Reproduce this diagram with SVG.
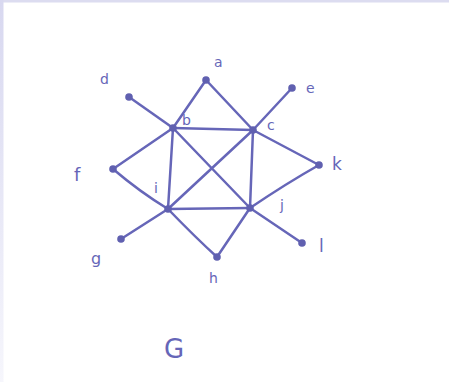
<svg xmlns="http://www.w3.org/2000/svg" width="449" height="382" viewBox="0 0 449 382">
<defs>
<linearGradient id="lb" x1="0" y1="0" x2="0" y2="1">
<stop offset="0" stop-color="#d8d8f0"/>
<stop offset="1" stop-color="#f6f6fc"/>
</linearGradient>
<style>
.e{stroke:#6666b8;stroke-width:2.5;fill:none;stroke-linecap:round}
.n{fill:#6060b0}
.t{font-family:"DejaVu Sans",sans-serif;font-size:14px;fill:#6666b8}
</style>
</defs>
<rect width="449" height="382" fill="#ffffff"/>
<rect x="0" y="0" width="449" height="2.5" fill="#dcdcf0"/>
<rect x="0" y="0" width="3.5" height="382" fill="url(#lb)"/>
<g id="edges">
<line class="e" x1="206" y1="80" x2="173" y2="128"/>
<line class="e" x1="206" y1="80" x2="253" y2="130"/>
<line class="e" x1="129" y1="97" x2="173" y2="128"/>
<line class="e" x1="173" y1="128" x2="253" y2="130"/>
<line class="e" x1="173" y1="128" x2="113" y2="169"/>
<line class="e" x1="173" y1="128" x2="168" y2="209"/>
<line class="e" x1="173" y1="128" x2="250" y2="208"/>
<line class="e" x1="253" y1="130" x2="292" y2="88"/>
<line class="e" x1="253" y1="130" x2="319" y2="165"/>
<line class="e" x1="253" y1="130" x2="250" y2="208"/>
<line class="e" x1="253" y1="130" x2="168" y2="209"/>
<path class="e" d="M113 169 Q140 192 168 209"/>
<line class="e" x1="168" y1="209" x2="250" y2="208"/>
<line class="e" x1="168" y1="209" x2="121" y2="239"/>
<path class="e" d="M168 209 Q195 237 217 257"/>
<line class="e" x1="250" y1="208" x2="217" y2="257"/>
<path class="e" d="M250 208 Q287 183 319 165"/>
<line class="e" x1="250" y1="208" x2="302" y2="243"/>
</g>
<g id="node-a"><circle class="n" cx="206" cy="80" r="3.8"/><text class="t" x="214" y="67">a</text></g>
<g id="node-b"><circle class="n" cx="173" cy="128" r="3.8"/><text class="t" x="182" y="125">b</text></g>
<g id="node-c"><circle class="n" cx="253" cy="130" r="3.8"/><text class="t" x="267" y="130">c</text></g>
<g id="node-d"><circle class="n" cx="129" cy="97" r="3.8"/><text class="t" x="100" y="84">d</text></g>
<g id="node-e"><circle class="n" cx="292" cy="88" r="3.8"/><text class="t" x="306" y="93">e</text></g>
<g id="node-f"><circle class="n" cx="113" cy="169" r="3.8"/><text class="t" x="74" y="181" style="font-size:18px">f</text></g>
<g id="node-k"><circle class="n" cx="319" cy="165" r="3.8"/><text class="t" x="332" y="170" style="font-size:17px">k</text></g>
<g id="node-i"><circle class="n" cx="168" cy="209" r="3.8"/><text class="t" x="154" y="193">i</text></g>
<g id="node-j"><circle class="n" cx="250" cy="208" r="3.8"/><text class="t" x="280" y="210">j</text></g>
<g id="node-g"><circle class="n" cx="121" cy="239" r="3.8"/><text class="t" x="91" y="264" style="font-size:16px">g</text></g>
<g id="node-l"><circle class="n" cx="302" cy="243" r="3.8"/><text class="t" x="319" y="252" style="font-size:17px">l</text></g>
<g id="node-h"><circle class="n" cx="217" cy="257" r="3.8"/><text class="t" x="209" y="283">h</text></g>
<text class="t" x="164" y="358" style="font-size:26px">G</text>
</svg>
